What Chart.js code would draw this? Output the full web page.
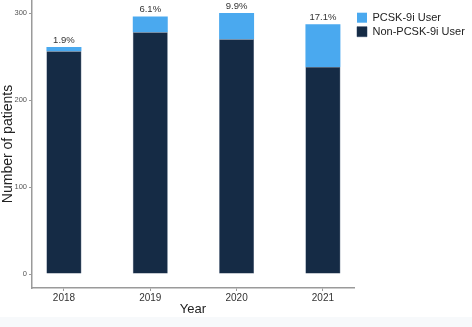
<!DOCTYPE html>
<html>
<head>
<meta charset="utf-8">
<script src="https://cdn.jsdelivr.net/npm/chart.js@4"></script>
<style>
  html, body { margin: 0; padding: 0; background: #f7f9fb; }
  #wrap { width: 472px; height: 317px; background: #fff; overflow: hidden; }
</style>
</head>
<body>
<div id="wrap"><canvas id="patientChart" width="472" height="317"></canvas></div>
<script>
const years = [2018, 2019, 2020, 2021];
const pcskUsers = [5, 18, 30, 49];
const nonUsers = [256, 278, 270, 238];
const pctLabels = ["1.9%", "6.1%", "9.9%", "17.1%"];

Chart.defaults.font.family = '"Liberation Sans", Arial, sans-serif';

// percent share on top of each stack
const pctPlugin = {
    id: 'pctLabels',
    afterDatasetsDraw(chart) {
        const meta = chart.getDatasetMeta(1);
        const ctx = chart.ctx;
        ctx.save();
        ctx.fillStyle = '#333';
        ctx.font = '9.5px "Liberation Sans", Arial, sans-serif';
        ctx.textAlign = 'center';
        ctx.textBaseline = 'bottom';
        meta.data.forEach((bar, i) => {
            ctx.fillText(pctLabels[i], bar.x, bar.y - 2);
        });
        ctx.restore();
    }
};

// no extra room for edge tick labels
function noEdgePadding(scale) {
    scale.paddingTop = 0;
    scale.paddingBottom = 0;
    scale.paddingLeft = 0;
    scale.paddingRight = 0;
}

const ctx = document.getElementById('patientChart');

new Chart(ctx, {
    type: 'bar',
    data: {
        datasets: [{
            label: 'Non-PCSK-9i User',
            data: nonUsers.map((v, i) => ({ x: years[i], y: v })),
            backgroundColor: '#152b45',
            borderColor: '#22395a',
            borderWidth: 0.5,
            barPercentage: 0.405,
            categoryPercentage: 1
        }, {
            label: 'PCSK-9i User',
            data: pcskUsers.map((v, i) => ({ x: years[i], y: v })),
            backgroundColor: '#4aa9ef',
            borderWidth: 0,
            barPercentage: 0.405,
            categoryPercentage: 1
        }]
    },
    options: {
        responsive: false,
        animation: false,
        layout: { autoPadding: false, padding: 0 },
        plugins: {
            legend: {
                position: 'right',
                align: 'start',
                reverse: true,
                title: {
                    display: true,
                    text: ' ',
                    font: { size: 1 },
                    padding: { top: 0, bottom: 8 }
                },
                labels: {
                    boxWidth: 10,
                    boxHeight: 10,
                    padding: 3,
                    color: '#222',
                    font: { size: 11 }
                }
            },
            tooltip: { enabled: false }
        },
        scales: {
            x: {
                type: 'linear',
                stacked: true,
                offset: false,
                min: 2017.63,
                max: 2021.36,
                afterFit(scale) { scale.height = 29; noEdgePadding(scale); },
                border: { color: '#9a9a9a', width: 1.5 },
                grid: { offset: false, drawOnChartArea: false, tickLength: 3, color: '#9a9a9a' },
                ticks: {
                    stepSize: 1,
                    includeBounds: false,
                    padding: 1,
                    color: '#333',
                    font: { size: 10 },
                    callback: v => String(v)
                },
                title: {
                    display: true,
                    text: 'Year',
                    color: '#222',
                    font: { size: 13 },
                    padding: { top: 0, bottom: 0 }
                }
            },
            y: {
                stacked: true,
                min: -16,
                max: 315,
                afterFit(scale) { scale.width = 32; noEdgePadding(scale); },
                border: { color: '#9a9a9a', width: 1.5 },
                grid: { drawOnChartArea: false, tickLength: 3, color: '#9a9a9a' },
                ticks: {
                    stepSize: 100,
                    includeBounds: false,
                    padding: 2,
                    color: '#555',
                    font: { size: 7.5 }
                },
                title: {
                    display: true,
                    text: 'Number of patients',
                    color: '#222',
                    font: { size: 14 },
                    padding: { top: 0, bottom: 1 }
                }
            }
        }
    },
    plugins: [pctPlugin]
});
</script>
</body>
</html>
